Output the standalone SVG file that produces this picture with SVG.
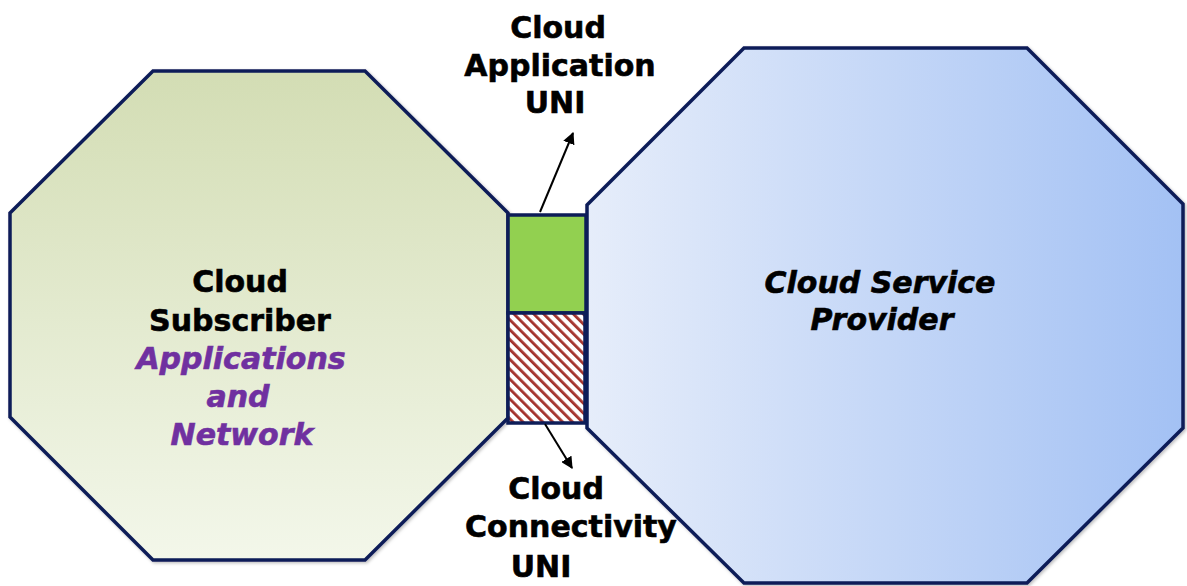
<svg xmlns="http://www.w3.org/2000/svg" width="1187" height="586" viewBox="0 0 1187 586">
<defs>
<linearGradient id="gLeft" x1="0" y1="0" x2="0" y2="1">
<stop offset="0" stop-color="#d3ddb4"/>
<stop offset="1" stop-color="#f3f7ea"/>
</linearGradient>
<linearGradient id="gRight" x1="0" y1="0" x2="1" y2="0">
<stop offset="0" stop-color="#e6edfa"/>
<stop offset="1" stop-color="#a3c1f4"/>
</linearGradient>
<pattern id="hatch" patternUnits="userSpaceOnUse" width="7" height="7" patternTransform="rotate(-45)">
<rect width="7" height="7" fill="#ffffff"/>
<rect x="0" y="0" width="2.8" height="7" fill="#a3322c"/>
</pattern>
<marker id="arr" viewBox="0 0 10 10" refX="9" refY="5" markerWidth="12" markerHeight="12" markerUnits="userSpaceOnUse" orient="auto">
<path d="M0,0 L10,5 L0,10 z" fill="#000"/>
</marker>
<filter id="sh" x="-5%" y="-5%" width="110%" height="110%">
<feDropShadow dx="1.5" dy="1.5" stdDeviation="1.5" flood-color="#000" flood-opacity="0.25"/>
</filter>
</defs>
<style>
.oct{stroke:#0d1d58;stroke-width:3.5;stroke-linejoin:miter}
.box{stroke:#0d1d58;stroke-width:3.5}
.t{font-family:"DejaVu Sans",Verdana,sans-serif;font-weight:bold;font-size:30px;text-anchor:middle;fill:#000;stroke:#000;stroke-width:0.6}
.it{font-style:italic}
.pu{fill:#7030a0;stroke:#7030a0}
.conn{stroke:#000;stroke-width:2;fill:none}
</style>
<g id="subscriber">
<polygon class="oct" filter="url(#sh)" fill="url(#gLeft)" points="153,71 365,71 508,213 508,418 365,560 153,560 10,417 10,213"/>
<text class="t" x="240" y="292">Cloud</text>
<text class="t" x="240" y="331">Subscriber</text>
<text class="t it pu" x="241" y="369">Applications</text>
<text class="t it pu" x="238" y="407">and</text>
<text class="t it pu" x="242" y="445">Network</text>
</g>
<g id="provider">
<polygon class="oct" filter="url(#sh)" fill="url(#gRight)" points="744,48 1027,48 1183,204 1183,428 1027,583 744,583 587,428 587,205"/>
<text class="t it" x="880" y="293">Cloud Service</text>
<text class="t it" x="882" y="330">Provider</text>
</g>
<g id="app-uni">
<rect class="box" x="508" y="215" width="78" height="98" fill="#92d050"/>
</g>
<g id="conn-uni">
<rect class="box" x="508" y="313" width="77" height="110" fill="url(#hatch)"/>
</g>
<g id="connectors">
<line class="conn" x1="540" y1="212" x2="573" y2="133" marker-end="url(#arr)"/>
<line class="conn" x1="545" y1="424" x2="572" y2="468" marker-end="url(#arr)"/>
</g>
<g id="labels">
<text class="t" x="558" y="38">Cloud</text>
<text class="t" x="560" y="76">Application</text>
<text class="t" x="555" y="113">UNI</text>
<text class="t" x="556" y="499">Cloud</text>
<text class="t" x="571" y="537">Connectivity</text>
<text class="t" x="541" y="577">UNI</text>
</g>
</svg>
